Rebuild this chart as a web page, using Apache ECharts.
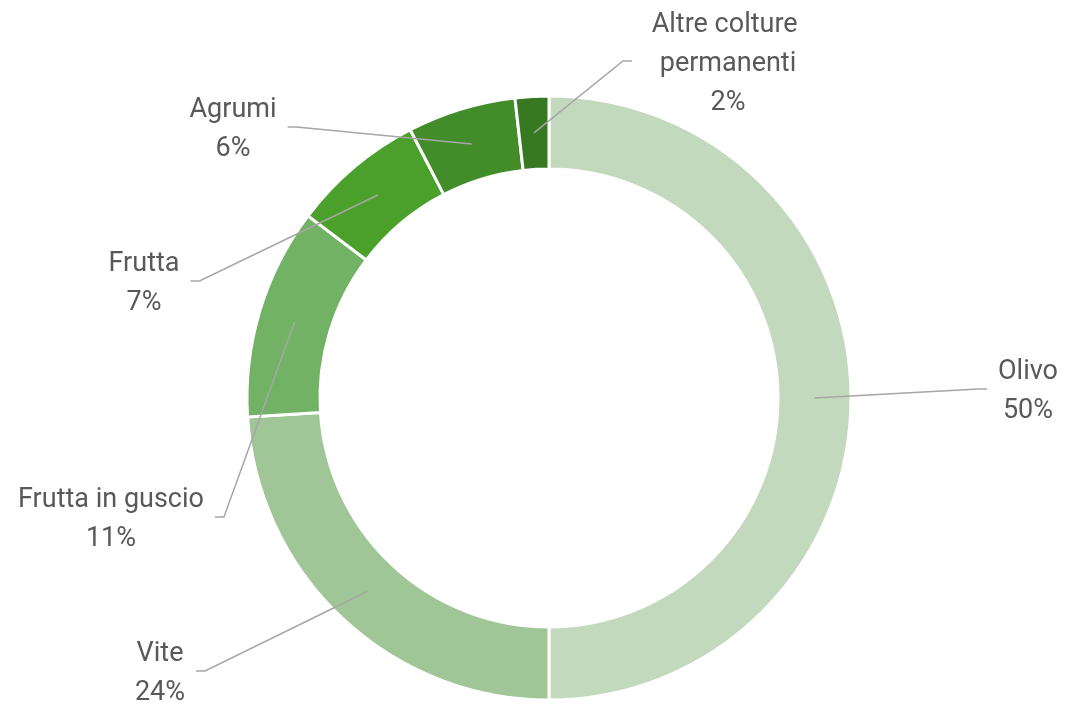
<!DOCTYPE html>
<html>
<head>
<meta charset="utf-8">
<script src="https://cdn.jsdelivr.net/npm/echarts@6/dist/echarts.min.js"></script>
<style>
  html, body { margin: 0; padding: 0; background: #fff; }
  #chart { width: 1066px; height: 704px; }
</style>
</head>
<body>
<div id="chart"></div>
<script>
// categorie e quote (%)
var categories = ['Olivo', 'Vite', 'Frutta in guscio', 'Frutta', 'Agrumi', 'Altre colture permanenti'];
var values = [50, 24, 11.3, 7.1, 5.8, 1.8];
var colors = ['#C3D9BD', '#A0C697', '#72B265', '#4BA02B', '#428C29', '#377921'];

// posizione delle etichette (centro del testo)
var labelPos = [[1028, 389], [160, 671], [111, 517], [144, 281], [233, 127], [728, 61]];

var cx = 549, cy = 398, rIn = 229, rOut = 302;
var rMid = (rIn + rOut) / 2;

var chart = echarts.init(document.getElementById('chart'));

function makeData(transparent) {
  return categories.map(function (name, i) {
    var item = {
      name: name,
      value: values[i],
      itemStyle: { color: transparent ? 'rgba(0,0,0,0)' : colors[i] }
    };
    if (name.length > 20) {
      item.label = { width: 170, overflow: 'break' };
    }
    return item;
  });
}

var option = {
  animation: false,
  series: [{
    // anello
    type: 'pie',
    z: 2,
    center: [cx, cy],
    radius: [rIn, rOut],
    startAngle: 90,
    clockwise: true,
    silent: true,
    data: makeData(false),
    itemStyle: { borderColor: '#fff', borderWidth: 3 },
    label: { show: false },
    labelLine: { show: false }
  }, {
    // etichette e linee guida sopra l'anello
    type: 'pie',
    z: 3,
    center: [cx, cy],
    radius: [rIn, rOut],
    startAngle: 90,
    clockwise: true,
    silent: true,
    percentPrecision: 0,
    data: makeData(true),
    itemStyle: { borderWidth: 0 },
    label: {
      show: true,
      formatter: '{b}\n{d}%',
      fontFamily: 'Roboto',
      fontSize: 27,
      lineHeight: 39,
      color: '#595959',
      align: 'center'
    },
    labelLine: {
      show: true,
      lineStyle: { color: '#A6A6A6', width: 1.5 }
    },
    labelLayout: function (p) {
      var pos = labelPos[p.dataIndex];
      var pts = p.labelLinePoints;
      // direzione dal centro al bordo esterno della fetta
      var dx = pts[0][0] - cx, dy = pts[0][1] - cy;
      var len = Math.sqrt(dx * dx + dy * dy);
      var start = [cx + dx / len * rMid, cy + dy / len * rMid];
      var w = p.labelRect.width;
      var endX, elbowX;
      if (pos[0] < cx) {
        endX = pos[0] + w / 2 + 11;
        elbowX = endX + 9;
      } else {
        endX = pos[0] - w / 2 - 11;
        elbowX = endX - 9;
      }
      return {
        x: pos[0],
        y: pos[1] + 3,
        align: 'center',
        verticalAlign: 'middle',
        labelLinePoints: [start, [elbowX, pos[1]], [endX, pos[1]]]
      };
    }
  }]
};

chart.setOption(option);
</script>
</body>
</html>
